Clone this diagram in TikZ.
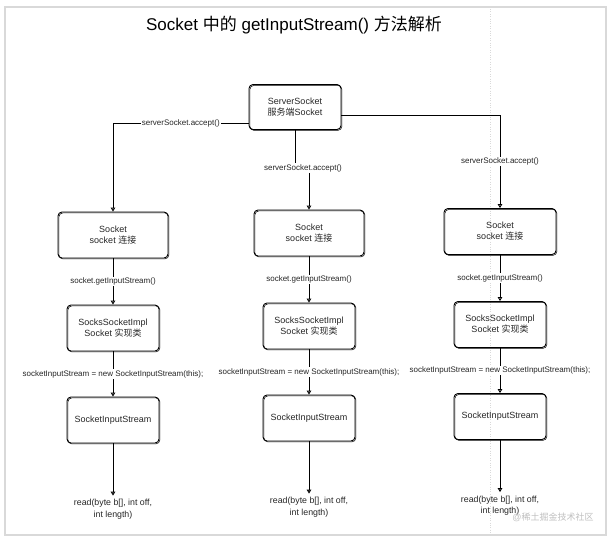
\documentclass[tikz,border=0pt]{standalone}
\usepackage{fontspec}
\setmainfont{Liberation Sans}
\newfontfamily\cjk{Noto Sans CJK SC}
\usetikzlibrary{arrows.meta, positioning, calc}

\tikzset{
  caixa/.style={draw, line width=0.9pt, rounded corners=4pt, align=center,
    minimum width=92pt, minimum height=46pt, text=black!85,
    font=\fontsize{9}{11}\selectfont,
    preaction={draw, line width=0.5pt, rounded corners=4pt,
      transform canvas={shift={(0.9pt,-0.9pt)}}}},
  rotulo/.style={fill=white, inner sep=1pt, text=black!85, font=\fontsize{8}{10}\selectfont},
  leitura/.style={align=center, text=black!85, font=\fontsize{8.8}{11.5}\selectfont},
  seta/.style={line width=0.9pt, -{Triangle[open, length=4pt, width=4.5pt]}}
}

\begin{document}
\begin{tikzpicture}[x=1pt, y=-1pt]
\useasboundingbox (0,0) rectangle (608,539);
% Moldura da página
\draw[black!15, line width=1.2pt] (5,7) rectangle (606,535);
\draw[black!15, dotted] (490,9) -- (490,533);  % guia tracejada

% Título
\node[font=\fontsize{17}{20}\selectfont] (titulo) at (294,25) {Socket {\cjk 中的} getInputStream() {\cjk 方法解析}};

% Servidor
\node[caixa, minimum height=45pt] (server) at (295,107) {ServerSocket\\{\cjk 服务端}Socket};

% Coluna 1
\begin{scope}[xshift=113pt]
\node[caixa, minimum width=110pt] (s1) at (0,235) {Socket\\socket {\cjk 连接}};
\node[caixa] (i1) at (0,328) {SocksSocketImpl\\Socket {\cjk 实现类}};
\node[caixa] (r1) at (0,420) {SocketInputStream};
\node[leitura] (l1) at (0,509) {read(byte b[], int off,\\int length)};
\draw[seta] (s1) -- node[rotulo] (g1) {socket.getInputStream()} (i1);
\draw[seta] (i1) -- node[rotulo] (n1) {socketInputStream = new SocketInputStream(this);} (r1);
\draw[seta] (r1) -- (l1);
\end{scope}

% Coluna 2
\begin{scope}[xshift=309pt, yshift=2pt]
\node[caixa, minimum width=110pt] (s2) at (0,235) {Socket\\socket {\cjk 连接}};
\node[caixa] (i2) at (0,328) {SocksSocketImpl\\Socket {\cjk 实现类}};
\node[caixa] (r2) at (0,420) {SocketInputStream};
\node[leitura] (l2) at (0,509) {read(byte b[], int off,\\int length)};
\draw[seta] (s2) -- node[rotulo] (g2) {socket.getInputStream()} (i2);
\draw[seta] (i2) -- node[rotulo] (n2) {socketInputStream = new SocketInputStream(this);} (r2);
\draw[seta] (r2) -- (l2);
\end{scope}

% Coluna 3
\begin{scope}[xshift=500pt, yshift=3.5pt]
\node[caixa, minimum width=112pt] (s3) at (0,235) {Socket\\socket {\cjk 连接}};
\node[caixa] (i3) at (0,328) {SocksSocketImpl\\Socket {\cjk 实现类}};
\node[caixa] (r3) at (0,420) {SocketInputStream};
\node[leitura] (l3) at (0,509) {read(byte b[], int off,\\int length)};
\draw[seta] (s3) -- node[rotulo] (g3) {socket.getInputStream()} (i3);
\draw[seta] (i3) -- node[rotulo] (n3) {socketInputStream = new SocketInputStream(this);} (r3);
\draw[seta] (r3) -- (l3);
\end{scope}

% Ligações do servidor
\draw[seta] ([yshift=-16pt]server.west) -| node[rotulo, pos=0.25] (a1) {serverSocket.accept()} (s1.north);
\node[rotulo] (a2) at (303,168) {serverSocket.accept()};
\draw[line width=0.9pt] (server.south) -- (server.south |- a2.north);
\draw[seta] (s2.north |- a2.south) -- (s2.north);
\draw[seta] ([yshift=-8pt]server.east) -| node[rotulo, pos=0.75] (a3) {serverSocket.accept()} (s3.north);

% Marca d'água
\node[text=black!25, font=\fontsize{9}{11}\selectfont] (marca) at (553,517) {@{\cjk 稀土掘金技术社区}};
\end{tikzpicture}
\end{document}
